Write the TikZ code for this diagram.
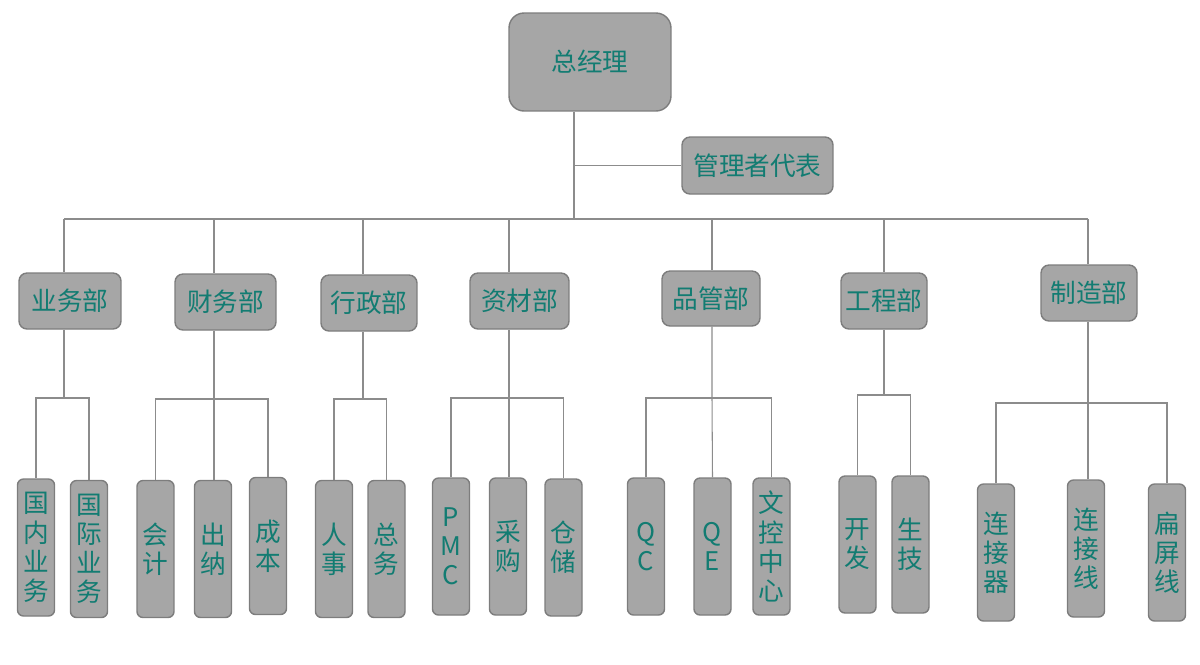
\documentclass[tikz,border=0pt]{standalone}
\usepackage{fontspec}
\setmainfont{Noto Sans CJK SC}
\usetikzlibrary{positioning}
\definecolor{boxfill}{RGB}{166,166,166}
\definecolor{boxline}{RGB}{125,125,125}
\definecolor{linkgray}{RGB}{140,140,140}
\definecolor{labeltext}{RGB}{18,124,114}

\begin{document}
\begin{tikzpicture}[x=0.02cm, y=-0.02cm,
  box/.style={draw=boxline, fill=boxfill, line width=0.8pt, text=labeltext, inner sep=0pt,
    font=\fontsize{14.6}{16.6}\selectfont},
  dept/.style={box, rounded corners=0.16cm, minimum width=2cm, minimum height=1.12cm},
  leaf/.style={box, rounded corners=0.12cm, minimum width=0.74cm, minimum height=2.74cm, align=center},
  link/.style={draw=linkgray, line width=0.6pt}]
  \useasboundingbox (0,0) rectangle (1200,664);
  % top
  \node[box, rounded corners=0.3cm, minimum width=3.24cm, minimum height=1.96cm] (gm) at (590,62) {总经理};
  \node[box, rounded corners=0.16cm, minimum width=3.02cm, minimum height=1.14cm] (rep) at (757.5,165.5) {管理者代表};
  % departments
  \node[dept, minimum width=2.04cm] (ywb) at (70,301) {业务部};
  \node[dept, minimum width=2.02cm] (cwb) at (225.5,302) {财务部};
  \node[dept, minimum width=1.92cm] (xzb) at (369,303) {行政部};
  \node[dept, minimum width=1.98cm] (zcb) at (519.5,301) {资材部};
  \node[dept, minimum width=1.96cm, minimum height=1.1cm] (pgb) at (711,298.5) {品管部};
  \node[dept, minimum width=1.72cm] (gcb) at (884,301) {工程部};
  \node[dept, minimum width=1.92cm] (zzb) at (1089,293) {制造部};
  % sections
  \node[leaf] (gn) at (36,547.5) {国\\内\\业\\务};
  \node[leaf] (gj) at (89,549) {国\\际\\业\\务};
  \node[leaf] (kj) at (155.5,549) {会\\计};
  \node[leaf] (cn) at (213,549) {出\\纳};
  \node[leaf] (cb) at (268,546) {成\\本};
  \node[leaf] (rs) at (334,549) {人\\事};
  \node[leaf] (zw) at (386.5,549) {总\\务};
  \node[leaf] (pmc) at (451,546.5) {P\\M\\C};
  \node[leaf] (cg) at (508,546.5) {采\\购};
  \node[leaf] (cc) at (563.5,547.5) {仓\\储};
  \node[leaf] (qc) at (646,546.5) {Q\\C};
  \node[leaf] (qe) at (712.5,546.5) {Q\\E};
  \node[leaf] (wk) at (771.5,546.5) {文\\控\\中\\心};
  \node[leaf] (kf) at (857.5,544.5) {开\\发};
  \node[leaf] (sj) at (910.5,544.5) {生\\技};
  \node[leaf] (ljq) at (996,552.5) {连\\接\\器};
  \node[leaf] (ljx) at (1086,548.5) {连\\接\\线};
  \node[leaf] (bpx) at (1167,552.5) {扁\\屏\\线};
  % trunk and main bus
  \coordinate (trunk) at (574,219);
  \coordinate (b1) at (64,219);
  \coordinate (b2) at (214,219);
  \coordinate (b3) at (363,219);
  \coordinate (b4) at (509,219);
  \coordinate (b5) at (712,219);
  \coordinate (b6) at (884,219);
  \coordinate (b7) at (1088,219);
  \draw[link] (trunk |- gm.south) -- (trunk);
  \draw[link] (trunk |- rep.west) -- (rep.west);
  \draw[link] (b1) -- (b7);
  \draw[link] (b1) -- (b1 |- ywb.north);
  \draw[link] (b2) -- (b2 |- cwb.north);
  \draw[link] (b3) -- (b3 |- xzb.north);
  \draw[link] (b4) -- (b4 |- zcb.north);
  \draw[link] (b5) -- (b5 |- pgb.north);
  \draw[link] (b6) -- (b6 |- gcb.north);
  \draw[link] (b7) -- (b7 |- zzb.north);
  % section buses
  \coordinate (g1) at (64,398);
  \coordinate (g2) at (214,399);
  \coordinate (g3) at (363,399);
  \coordinate (g4) at (509,398);
  \coordinate (g5) at (712,398);
  \coordinate (g6) at (884,395);
  \coordinate (g7) at (1088,403);
  \draw[link] (b1 |- ywb.south) -- (g1);
  \draw[link] (gn.north) |- (g1) -| (gj.north);
  \draw[link] (b2 |- cwb.south) -- (b2 |- cn.north);
  \draw[link] (kj.north) |- (g2) -| (cb.north);
  \draw[link] (b3 |- xzb.south) -- (g3);
  \draw[link] (rs.north) |- (g3) -| (zw.north);
  \draw[link] (b4 |- zcb.south) -- (b4 |- cg.north);
  \draw[link] (pmc.north) |- (g4) -| (cc.north);
  \draw[link] (b5 |- pgb.south) -- (g5) -- (qe.north);
  \draw[link] (qc.north) |- (g5) -| (wk.north);
  \draw[link] (b6 |- gcb.south) -- (g6);
  \draw[link] (kf.north) |- (g6) -| (sj.north);
  \draw[link] (b7 |- zzb.south) -- (b7 |- ljx.north);
  \draw[link] (ljq.north) |- (g7) -| (bpx.north);
\end{tikzpicture}
\end{document}
